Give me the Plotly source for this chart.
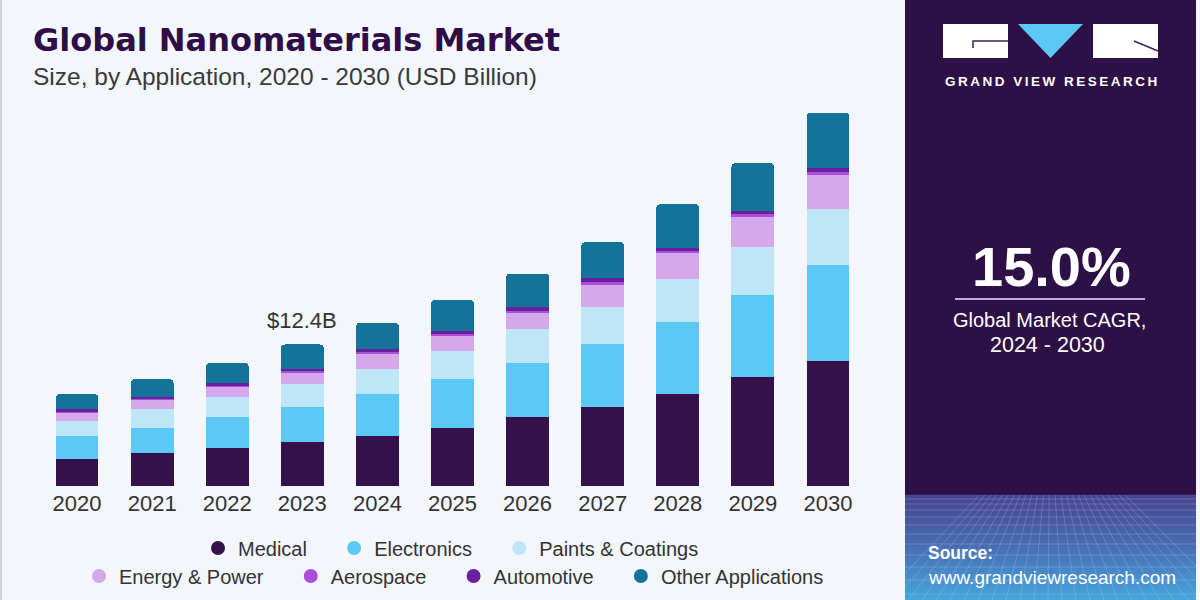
import plotly.graph_objects as go

# ---------------- data (USD Billion) ----------------
years = ["2020", "2021", "2022", "2023", "2024", "2025", "2026", "2027", "2028", "2029", "2030"]
medical = [2.39, 2.89, 3.30, 3.82, 4.40, 5.10, 6.01, 6.94, 8.05, 9.51, 10.96]
electronics = [2.01, 2.19, 2.71, 3.11, 3.62, 4.26, 4.72, 5.49, 6.33, 7.20, 8.37]
paints_coatings = [1.31, 1.66, 1.75, 1.96, 2.21, 2.48, 2.97, 3.26, 3.71, 4.23, 4.87]
energy_power = [0.73, 0.79, 0.96, 1.01, 1.31, 1.29, 1.45, 1.87, 2.27, 2.62, 3.00]
aerospace = [0.12, 0.11, 0.11, 0.13, 0.18, 0.19, 0.19, 0.25, 0.18, 0.21, 0.24]
automotive = [0.17, 0.15, 0.15, 0.19, 0.26, 0.27, 0.28, 0.36, 0.26, 0.31, 0.35]
other_applications = [1.29, 1.55, 1.78, 2.16, 2.30, 2.69, 2.97, 3.15, 3.85, 4.15, 4.86]

series_names = ["Medical", "Electronics", "Paints & Coatings", "Energy & Power",
                "Aerospace", "Automotive", "Other Applications"]
series_values = [medical, electronics, paints_coatings, energy_power,
                 aerospace, automotive, other_applications]
series_colors = ["#35104a", "#5bc8f5", "#bfe6f7", "#d4a8ea", "#a94fd8", "#6a1fa0", "#137399"]

annot_year = "2023"
annot_text = "$12.4B"
cagr_text = "15.0%"

W, H = 1200, 600
BG = "#f3f6fa"
PANEL = "#2d1045"


def px(x):
    return x / W


def py(y):
    return 1 - y / H


fig = go.Figure()

for name, vals, col in zip(series_names, series_values, series_colors):
    fig.add_trace(go.Bar(x=years, y=vals, name=name, showlegend=False,
                         marker=dict(color=col, line=dict(width=0)),
                         hoverinfo="skip"))

# legend entries (circles), two centred rows
pad = "\u00a0" * 4
for i, (name, col) in enumerate(zip(series_names, series_colors)):
    row1 = i < 3
    last = (i == 2) or (i == 6)
    fig.add_trace(go.Scatter(x=[None], y=[None], mode="markers",
                             name=name + ("" if last else pad),
                             marker=dict(symbol="circle", size=14, color=col),
                             legend="legend" if row1 else "legend2",
                             hoverinfo="skip"))

annot_idx = years.index(annot_year)
annot_total = sum(v[annot_idx] for v in series_values)

shapes = []
# left thin border
shapes.append(dict(type="rect", xref="paper", yref="paper", x0=0, x1=px(2), y0=0, y1=1,
                   fillcolor="#cfd3d9", line=dict(width=0)))
# right panel
shapes.append(dict(type="rect", xref="paper", yref="paper", x0=px(905), x1=px(1196),
                   y0=py(600), y1=py(0), fillcolor=PANEL, line=dict(width=0)))


def lerp(c1, c2, t):
    a = [int(c1[i:i + 2], 16) for i in (1, 3, 5)]
    b = [int(c2[i:i + 2], 16) for i in (1, 3, 5)]
    return "rgb(%d,%d,%d)" % tuple(round(a[k] + (b[k] - a[k]) * t) for k in range(3))


stops = [(495, "#47448e"), (550, "#4870b6"), (600, "#46a6dc")]
n = 35
for k in range(n):
    y0 = 495 + (600 - 495) * k / n
    y1 = 495 + (600 - 495) * (k + 1) / n
    ym = (y0 + y1) / 2
    if ym <= stops[1][0]:
        c = lerp(stops[0][1], stops[1][1], (ym - stops[0][0]) / (stops[1][0] - stops[0][0]))
    else:
        c = lerp(stops[1][1], stops[2][1], (ym - stops[1][0]) / (stops[2][0] - stops[1][0]))
    shapes.append(dict(type="rect", xref="paper", yref="paper", x0=px(905), x1=px(1196),
                       y0=py(y1), y1=py(y0) + 0.0005, fillcolor=c, line=dict(width=0)))

# mesh texture
mesh = "rgba(200,225,255,0.22)"
for yy in [499, 504, 510, 517, 525, 534, 544, 555, 567, 580, 594]:
    shapes.append(dict(type="line", xref="paper", yref="paper", x0=px(905), x1=px(1196),
                       y0=py(yy), y1=py(yy), line=dict(color=mesh, width=1)))
vx, vy = 1050, 420
for xb in range(880, 1240, 14):
    t = (495 - vy) / (600 - vy)
    xt = vx + (xb - vx) * t
    x0, y0, x1, y1 = xt, 495, xb, 600
    if x1 < 905:
        s = (905 - x0) / (x1 - x0)
        x1, y1 = 905, y0 + (y1 - y0) * s
    if x1 > 1196:
        s = (1196 - x0) / (x1 - x0)
        x1, y1 = 1196, y0 + (y1 - y0) * s
    if x0 < 905 or x0 > 1196:
        continue
    shapes.append(dict(type="line", xref="paper", yref="paper", x0=px(x0), x1=px(x1),
                       y0=py(y0), y1=py(y1), line=dict(color=mesh, width=1)))

# logo
shapes.append(dict(type="rect", xref="paper", yref="paper", x0=px(943), x1=px(1008),
                   y0=py(58), y1=py(24), fillcolor="white", line=dict(width=0)))
shapes.append(dict(type="rect", xref="paper", yref="paper", x0=px(1093), x1=px(1158),
                   y0=py(58), y1=py(24), fillcolor="white", line=dict(width=0)))
shapes.append(dict(type="path", xref="paper", yref="paper",
                   path="M %f,%f L %f,%f L %f,%f Z" % (px(1018), py(24), px(1083), py(24), px(1050.5), py(58)),
                   fillcolor="#5bc8f5", line=dict(width=0)))
shapes.append(dict(type="path", xref="paper", yref="paper",
                   path="M %f,%f L %f,%f L %f,%f" % (px(973), py(48), px(973), py(41), px(1008), py(41)),
                   line=dict(color="#3b2450", width=1.5)))
shapes.append(dict(type="line", xref="paper", yref="paper", x0=px(1134), x1=px(1158),
                   y0=py(41), y1=py(51), line=dict(color="#3b2450", width=1.5)))
# divider under CAGR
shapes.append(dict(type="line", xref="paper", yref="paper", x0=px(955), x1=px(1145),
                   y0=py(299), y1=py(299), line=dict(color="#c9a6e2", width=2)))

SANS = "Liberation Sans, Arial, sans-serif"
annotations = [
    dict(text="<b>Global Nanomaterials Market</b>", xref="paper", yref="paper",
         x=px(31), y=py(40), xanchor="left", yanchor="middle", showarrow=False,
         font=dict(family="DejaVu Sans", size=32, color="#2e0d48")),
    dict(text="Size, by Application, 2020 - 2030 (USD Billion)", xref="paper", yref="paper",
         x=px(31), y=py(76), xanchor="left", yanchor="middle", showarrow=False,
         font=dict(family=SANS, size=24.5, color="#3a3a3a")),
    dict(text=annot_text, x=annot_idx, y=annot_total, xref="x", yref="y",
         yanchor="bottom", yshift=9, showarrow=False,
         font=dict(family=SANS, size=22, color="#333333")),
    dict(text='<b><span style="letter-spacing:2.5px">GRAND VIEW RESEARCH</span></b>',
         xref="paper", yref="paper", x=px(943), y=py(81), xanchor="left", yanchor="middle",
         showarrow=False, font=dict(family=SANS, size=13.5, color="white")),
    dict(text="<b>" + cagr_text + "</b>", xref="paper", yref="paper", x=px(1051), y=py(266),
         xanchor="center", yanchor="middle", showarrow=False,
         font=dict(family=SANS, size=56, color="white")),
    dict(text="Global Market CAGR,", xref="paper", yref="paper", x=px(1049), y=py(320),
         xanchor="center", yanchor="middle", showarrow=False,
         font=dict(family=SANS, size=20, color="white")),
    dict(text="2024 - 2030", xref="paper", yref="paper", x=px(1047), y=py(345),
         xanchor="center", yanchor="middle", showarrow=False,
         font=dict(family=SANS, size=21.5, color="white")),
    dict(text="<b>Source:</b>", xref="paper", yref="paper", x=px(926), y=py(553),
         xanchor="left", yanchor="middle", showarrow=False,
         font=dict(family=SANS, size=17.5, color="white")),
    dict(text="www.grandviewresearch.com", xref="paper", yref="paper", x=px(926), y=py(577),
         xanchor="left", yanchor="middle", showarrow=False,
         font=dict(family=SANS, size=19, color="white")),
]

legend_common = dict(orientation="h", xanchor="center", yanchor="middle",
                     bgcolor="rgba(0,0,0,0)", borderwidth=0, traceorder="normal",
                     font=dict(family=SANS, size=20, color="#333333"),
                     itemclick=False, itemdoubleclick=False, tracegroupgap=0)

fig.update_layout(
    width=W, height=H,
    margin=dict(l=0, r=0, t=0, b=0, pad=0, autoexpand=False),
    paper_bgcolor=BG, plot_bgcolor=BG,
    barmode="stack", bargap=0.43, barcornerradius=4,
    showlegend=True,
    legend=dict(x=px(451), y=py(548), **legend_common),
    legend2=dict(x=px(454), y=py(576), **legend_common),
    xaxis=dict(domain=[px(39.5), px(865.5)], type="category", showgrid=False,
               categoryorder="array", categoryarray=years, range=[-0.5, len(years) - 0.5],
               showline=False, zeroline=False, ticks="", fixedrange=True, automargin=False,
               ticklabelstandoff=2,
               tickfont=dict(family=SANS, size=22, color="#333333")),
    yaxis=dict(domain=[py(486), py(100)], range=[0, 33.77], visible=False,
               fixedrange=True, automargin=False),
    shapes=shapes,
    annotations=annotations,
    hovermode=False,
)

fig.write_html("out.html", config={"displayModeBar": False})
